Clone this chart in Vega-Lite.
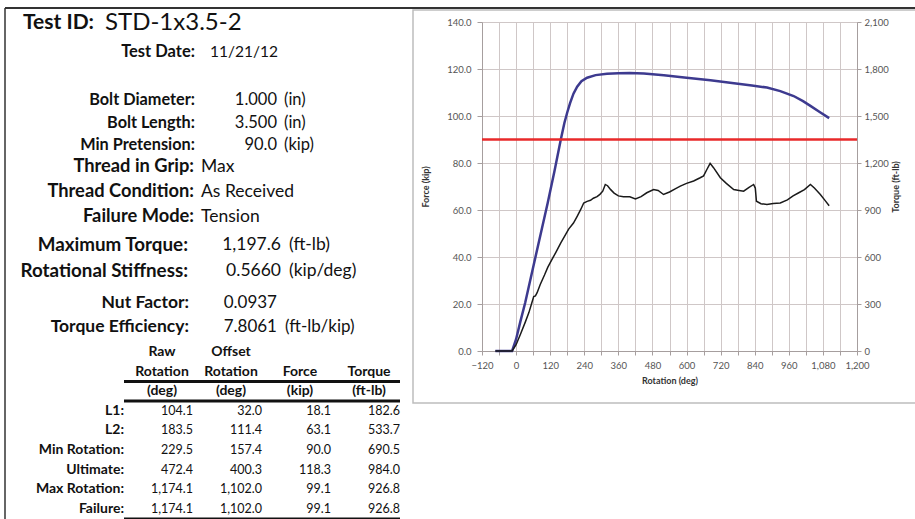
{
  "$schema": "https://vega.github.io/schema/vega-lite/v6.json",
  "width": 375,
  "height": 329,
  "autosize": {"type": "none"},
  "padding": {"left": 482, "top": 22, "right": 58, "bottom": 168},
  "background": "white",
  "config": {
    "view": {"stroke": null},
    "font": "Lato",
    "text": {"font": "Lato", "color": "#111111", "baseline": "middle"}
  },
  "datasets": {
    "force": [
      {"rotation": -73, "force": 0}, {"rotation": -40, "force": 0}, {"rotation": -14, "force": 0},
      {"rotation": 0, "force": 5}, {"rotation": 15, "force": 12.5}, {"rotation": 32, "force": 20.5},
      {"rotation": 70, "force": 41}, {"rotation": 111.4, "force": 63.1}, {"rotation": 135, "force": 76.5},
      {"rotation": 157.4, "force": 90}, {"rotation": 170, "force": 97}, {"rotation": 180, "force": 101.5},
      {"rotation": 190, "force": 105.5}, {"rotation": 202, "force": 109.5}, {"rotation": 215, "force": 112.5},
      {"rotation": 230, "force": 114.8}, {"rotation": 250, "force": 116.3}, {"rotation": 280, "force": 117.4},
      {"rotation": 320, "force": 118}, {"rotation": 360, "force": 118.2}, {"rotation": 400.3, "force": 118.3},
      {"rotation": 450, "force": 118.1}, {"rotation": 520, "force": 117.3}, {"rotation": 600, "force": 116.3},
      {"rotation": 684, "force": 115.2}, {"rotation": 760, "force": 114}, {"rotation": 830, "force": 113},
      {"rotation": 883, "force": 112.1}, {"rotation": 930, "force": 110.6}, {"rotation": 977, "force": 108.5},
      {"rotation": 1010, "force": 106.3}, {"rotation": 1036, "force": 104.3}, {"rotation": 1070, "force": 101.6},
      {"rotation": 1102, "force": 99.1}
    ],
    "torque": [
      {"rotation": -73, "torque": 0}, {"rotation": -45, "torque": 0}, {"rotation": -14, "torque": 0},
      {"rotation": 0, "torque": 40}, {"rotation": 15, "torque": 105}, {"rotation": 32, "torque": 182.6},
      {"rotation": 45, "torque": 245}, {"rotation": 55, "torque": 305}, {"rotation": 62, "torque": 348},
      {"rotation": 68, "torque": 352}, {"rotation": 74, "torque": 372}, {"rotation": 85, "torque": 425},
      {"rotation": 100, "torque": 485}, {"rotation": 111.4, "torque": 533.7}, {"rotation": 125, "torque": 580},
      {"rotation": 140, "torque": 630}, {"rotation": 157.4, "torque": 690.5}, {"rotation": 170, "torque": 730},
      {"rotation": 185, "torque": 778}, {"rotation": 202, "torque": 817}, {"rotation": 215, "torque": 860},
      {"rotation": 228, "torque": 905}, {"rotation": 238, "torque": 945}, {"rotation": 250, "torque": 955},
      {"rotation": 262, "torque": 962}, {"rotation": 272, "torque": 975}, {"rotation": 285, "torque": 985},
      {"rotation": 295, "torque": 1000}, {"rotation": 305, "torque": 1020}, {"rotation": 314, "torque": 1063},
      {"rotation": 322, "torque": 1055}, {"rotation": 333, "torque": 1030}, {"rotation": 345, "torque": 1008},
      {"rotation": 360, "torque": 990}, {"rotation": 378, "torque": 984}, {"rotation": 400.3, "torque": 984},
      {"rotation": 420, "torque": 971}, {"rotation": 440, "torque": 985}, {"rotation": 460, "torque": 1010},
      {"rotation": 484, "torque": 1031}, {"rotation": 500, "torque": 1025}, {"rotation": 519, "torque": 999},
      {"rotation": 540, "torque": 1015}, {"rotation": 560, "torque": 1035}, {"rotation": 578, "torque": 1052},
      {"rotation": 600, "torque": 1070}, {"rotation": 625, "torque": 1085}, {"rotation": 648, "torque": 1106},
      {"rotation": 660, "torque": 1118}, {"rotation": 672, "torque": 1160}, {"rotation": 683, "torque": 1197.6},
      {"rotation": 695, "torque": 1170}, {"rotation": 719, "torque": 1106}, {"rotation": 740, "torque": 1070},
      {"rotation": 766, "torque": 1031}, {"rotation": 785, "torque": 1025}, {"rotation": 801, "torque": 1020},
      {"rotation": 820, "torque": 1045}, {"rotation": 836, "torque": 1063}, {"rotation": 842, "torque": 1040},
      {"rotation": 846, "torque": 956}, {"rotation": 862, "torque": 940}, {"rotation": 883, "torque": 935},
      {"rotation": 905, "torque": 942}, {"rotation": 930, "torque": 945}, {"rotation": 955, "torque": 965},
      {"rotation": 975, "torque": 990}, {"rotation": 995, "torque": 1010}, {"rotation": 1015, "torque": 1030},
      {"rotation": 1036, "torque": 1063}, {"rotation": 1050, "torque": 1040}, {"rotation": 1071, "torque": 999},
      {"rotation": 1088, "torque": 960}, {"rotation": 1102, "torque": 926.8}
    ],
    "pretension": [{"force": 90}],
    "frame": [{"part": "frame"}],
    "title": [{"label": "Test ID:", "value": "STD-1x3.5-2"}],
    "date": [{"label": "Test Date:", "value": "11/21/12"}],
    "bolt": [
      {"label": "Bolt Diameter:", "num": "1.000", "unit": "(in)"},
      {"label": "Bolt Length:", "num": "3.500", "unit": "(in)"},
      {"label": "Min Pretension:", "num": "90.0", "unit": "(kip)"}
    ],
    "thread": [
      {"label": "Thread in Grip:", "text": "Max"},
      {"label": "Thread Condition:", "text": "As Received"},
      {"label": "Failure Mode:", "text": "Tension"}
    ],
    "key": [
      {"label": "Maximum Torque:", "num": "1,197.6", "unit": "(ft-lb)"},
      {"label": "Rotational Stiffness:", "num": "0.5660", "unit": "(kip/deg)"}
    ],
    "factor": [
      {"label": "Nut Factor:", "num": "0.0937", "unit": ""},
      {"label": "Torque Efficiency:", "num": "7.8061", "unit": "(ft-lb/kip)"}
    ],
    "table_header": [
      {"line": "h1", "col": "raw", "text": "Raw"},
      {"line": "h1", "col": "offset", "text": "Offset"},
      {"line": "h2", "col": "raw", "text": "Rotation"},
      {"line": "h2", "col": "offset", "text": "Rotation"},
      {"line": "h2", "col": "force", "text": "Force"},
      {"line": "h2", "col": "torque", "text": "Torque"},
      {"line": "h3", "col": "raw", "text": "(deg)"},
      {"line": "h3", "col": "offset", "text": "(deg)"},
      {"line": "h3", "col": "force", "text": "(kip)"},
      {"line": "h3", "col": "torque", "text": "(ft-lb)"}
    ],
    "table_rows": [
      {"point": "L1:", "raw": 104.1, "offset": 32.0, "force": 18.1, "torque": 182.6},
      {"point": "L2:", "raw": 183.5, "offset": 111.4, "force": 63.1, "torque": 533.7},
      {"point": "Min Rotation:", "raw": 229.5, "offset": 157.4, "force": 90.0, "torque": 690.5},
      {"point": "Ultimate:", "raw": 472.4, "offset": 400.3, "force": 118.3, "torque": 984.0},
      {"point": "Max Rotation:", "raw": 1174.1, "offset": 1102.0, "force": 99.1, "torque": 926.8},
      {"point": "Failure:", "raw": 1174.1, "offset": 1102.0, "force": 99.1, "torque": 926.8}
    ],
    "table_rules_thick": [{"line": "rule1"}, {"line": "rule2"}],
    "table_rules_bottom": [{"line": "rule3"}]
  },
  "layer": [
    {
      "data": {"name": "frame"},
      "mark": {"type": "rect", "fill": null, "stroke": "#bdbdbd", "strokeWidth": 1.5},
      "encoding": {
        "x": {"datum": "chart left", "type": "nominal", "scale": {"type": "point", "domain": ["chart left", "chart right"], "range": [-69, 436], "padding": 0}, "axis": null},
        "x2": {"datum": "chart right"},
        "y": {"datum": "chart top", "type": "nominal", "scale": {"type": "point", "domain": ["chart top", "chart bottom"], "range": [-12, 381], "padding": 0}, "axis": null},
        "y2": {"datum": "chart bottom"}
      }
    },
    {
      "data": {"name": "frame"},
      "encoding": {
        "x": {"datum": "page left", "type": "nominal", "scale": {"type": "point", "domain": ["page left", "page right"], "range": [-477, 433], "padding": 0}, "axis": null},
        "y": {"datum": "page top", "type": "nominal", "scale": {"type": "point", "domain": ["page top", "page bottom"], "range": [-14, 497], "padding": 0}, "axis": null}
      },
      "layer": [
        {"mark": {"type": "rule", "color": "#333333", "strokeWidth": 2}, "encoding": {"x2": {"datum": "page right"}}},
        {"mark": {"type": "rule", "color": "#333333", "strokeWidth": 1.5}, "encoding": {"y2": {"datum": "page bottom"}}}
      ]
    },
    {
      "data": {"name": "force"},
      "mark": {"type": "line", "color": "#3d3a8f", "strokeWidth": 2.5},
      "encoding": {
        "x": {
          "field": "rotation", "type": "quantitative",
          "scale": {"domain": [-120, 1200], "nice": false, "zero": false},
          "axis": {
            "values": [-120, -60, 0, 60, 120, 180, 240, 300, 360, 420, 480, 540, 600, 660, 720, 780, 840, 900, 960, 1020, 1080, 1140, 1200],
            "labelExpr": "datum.value % 120 === 0 ? format(datum.value, ',') : ''",
            "grid": true, "gridColor": "#cfc7c7", "gridWidth": 1,
            "domainColor": "#a69e9e", "tickColor": "#a69e9e", "tickSize": 4,
            "labelFont": "Lato", "labelFontSize": 9.5, "labelColor": "#555555", "labelPadding": 5,
            "labelOverlap": false, "labelFlush": false,
            "title": "Rotation (deg)", "titleFont": "Lato", "titleFontSize": 9,
            "titleFontWeight": "bold", "titleColor": "#333333", "titlePadding": 7
          }
        },
        "y": {
          "field": "force", "type": "quantitative",
          "scale": {"domain": [0, 140], "nice": false},
          "axis": {
            "orient": "left",
            "values": [0, 20, 40, 60, 80, 100, 120, 140],
            "labelExpr": "format(datum.value, '.1f')",
            "grid": true, "gridColor": "#cfc7c7", "gridWidth": 1,
            "domainColor": "#a69e9e", "tickColor": "#a69e9e", "tickSize": 5,
            "labelFont": "Lato", "labelFontSize": 9.5, "labelColor": "#555555", "labelPadding": 6,
            "title": "Force (kip)", "titleFont": "Lato", "titleFontSize": 9,
            "titleFontWeight": "bold", "titleColor": "#333333", "titlePadding": 16
          }
        }
      }
    },
    {
      "data": {"name": "pretension"},
      "mark": {"type": "rule", "color": "#e8292a", "strokeWidth": 2.5},
      "encoding": {
        "y": {"field": "force", "type": "quantitative", "scale": {"domain": [0, 140], "nice": false}, "axis": null}
      }
    },
    {
      "data": {"name": "torque"},
      "mark": {"type": "line", "color": "#1a1a1a", "strokeWidth": 1.5},
      "encoding": {
        "x": {"field": "rotation", "type": "quantitative", "scale": {"domain": [-120, 1200], "nice": false, "zero": false}, "axis": null},
        "y": {
          "field": "torque", "type": "quantitative",
          "scale": {"domain": [0, 2100], "nice": false},
          "axis": {
            "orient": "right",
            "values": [0, 300, 600, 900, 1200, 1500, 1800, 2100],
            "labelExpr": "format(datum.value, ',')",
            "grid": false, "domainColor": "#a69e9e", "tickColor": "#a69e9e", "tickSize": 4,
            "labelFont": "Lato", "labelFontSize": 9.5, "labelColor": "#555555", "labelPadding": 3,
            "title": "Torque (ft-lb)", "titleFont": "Lato", "titleFontSize": 9, "titleAngle": 270,
            "titleFontWeight": "bold", "titleColor": "#333333", "titlePadding": 12
          }
        }
      }
    },
    {
      "data": {"name": "title"},
      "encoding": {
        "y": {"field": "label", "type": "nominal", "scale": {"type": "point", "domain": ["Test ID:"], "range": [1, 1], "padding": 0}, "axis": null}
      },
      "layer": [
        {
          "mark": {"type": "text", "align": "left", "fontSize": 21, "fontWeight": "bold"},
          "encoding": {
            "x": {"datum": "label", "type": "nominal", "scale": {"type": "point", "domain": ["label", "value"], "range": [-459, -377], "padding": 0}, "axis": null},
            "text": {"field": "label"}
          }
        },
        {
          "mark": {"type": "text", "align": "left", "fontSize": 24},
          "encoding": {"x": {"datum": "value", "type": "nominal"}, "text": {"field": "value"}}
        }
      ]
    },
    {
      "data": {"name": "date"},
      "encoding": {
        "y": {"field": "label", "type": "nominal", "scale": {"type": "point", "domain": ["Test Date:"], "range": [30, 30], "padding": 0}, "axis": null}
      },
      "layer": [
        {
          "mark": {"type": "text", "align": "right", "fontSize": 16.5, "fontWeight": "bold"},
          "encoding": {
            "x": {"datum": "label", "type": "nominal", "scale": {"type": "point", "domain": ["label", "value"], "range": [-287, -272], "padding": 0}, "axis": null},
            "text": {"field": "label"}
          }
        },
        {
          "mark": {"type": "text", "align": "left", "fontSize": 15.5},
          "encoding": {"x": {"datum": "value", "type": "nominal"}, "text": {"field": "value"}}
        }
      ]
    },
    {
      "data": {"name": "bolt"},
      "encoding": {
        "y": {"field": "label", "type": "nominal", "scale": {"type": "point", "domain": ["Bolt Diameter:", "Bolt Length:", "Min Pretension:"], "range": [78, 123], "padding": 0}, "axis": null}
      },
      "layer": [
        {
          "mark": {"type": "text", "align": "right", "fontSize": 16.3, "fontWeight": "bold"},
          "encoding": {
            "x": {"datum": "label", "type": "nominal", "scale": {"type": "point", "domain": ["label", "value"], "range": [-287, -205], "padding": 0}, "axis": null},
            "text": {"field": "label"}
          }
        },
        {
          "mark": {"type": "text", "align": "right", "fontSize": 16.5},
          "encoding": {"x": {"datum": "value", "type": "nominal"}, "text": {"field": "num"}}
        },
        {
          "mark": {"type": "text", "align": "left", "fontSize": 16.5, "dx": 7},
          "encoding": {"x": {"datum": "value", "type": "nominal"}, "text": {"field": "unit"}}
        }
      ]
    },
    {
      "data": {"name": "thread"},
      "encoding": {
        "y": {"field": "label", "type": "nominal", "scale": {"type": "point", "domain": ["Thread in Grip:", "Thread Condition:", "Failure Mode:"], "range": [145, 195], "padding": 0}, "axis": null}
      },
      "layer": [
        {
          "mark": {"type": "text", "align": "right", "fontSize": 18.3, "fontWeight": "bold"},
          "encoding": {
            "x": {"datum": "label", "type": "nominal", "scale": {"type": "point", "domain": ["label", "value"], "range": [-288, -281], "padding": 0}, "axis": null},
            "text": {"field": "label"}
          }
        },
        {
          "mark": {"type": "text", "align": "left", "fontSize": 17.5},
          "encoding": {"x": {"datum": "value", "type": "nominal"}, "text": {"field": "text"}}
        }
      ]
    },
    {
      "data": {"name": "key"},
      "encoding": {
        "y": {"field": "label", "type": "nominal", "scale": {"type": "point", "domain": ["Maximum Torque:", "Rotational Stiffness:"], "range": [223, 249], "padding": 0}, "axis": null}
      },
      "layer": [
        {
          "mark": {"type": "text", "align": "right", "fontSize": 18.8, "fontWeight": "bold"},
          "encoding": {
            "x": {"datum": "label", "type": "nominal", "scale": {"type": "point", "domain": ["label", "value"], "range": [-294, -201], "padding": 0}, "axis": null},
            "text": {"field": "label"}
          }
        },
        {
          "mark": {"type": "text", "align": "right", "fontSize": 17.5},
          "encoding": {"x": {"datum": "value", "type": "nominal"}, "text": {"field": "num"}}
        },
        {
          "mark": {"type": "text", "align": "left", "fontSize": 17.5, "dx": 8},
          "encoding": {"x": {"datum": "value", "type": "nominal"}, "text": {"field": "unit"}}
        }
      ]
    },
    {
      "data": {"name": "factor"},
      "encoding": {
        "y": {"field": "label", "type": "nominal", "scale": {"type": "point", "domain": ["Nut Factor:", "Torque Efficiency:"], "range": [281, 305], "padding": 0}, "axis": null}
      },
      "layer": [
        {
          "mark": {"type": "text", "align": "right", "fontSize": 17.5, "fontWeight": "bold"},
          "encoding": {
            "x": {"datum": "label", "type": "nominal", "scale": {"type": "point", "domain": ["label", "value"], "range": [-293, -205], "padding": 0}, "axis": null},
            "text": {"field": "label"}
          }
        },
        {
          "mark": {"type": "text", "align": "right", "fontSize": 17},
          "encoding": {"x": {"datum": "value", "type": "nominal"}, "text": {"field": "num"}}
        },
        {
          "mark": {"type": "text", "align": "left", "fontSize": 17, "dx": 8},
          "encoding": {"x": {"datum": "value", "type": "nominal"}, "text": {"field": "unit"}}
        }
      ]
    },
    {
      "encoding": {
        "y": {"type": "nominal", "scale": {"type": "point", "domain": ["h1", "s1", "h2", "rule1", "h3", "rule2", "L1:", "s2", "L2:", "s3", "Min Rotation:", "s4", "Ultimate:", "s5", "Max Rotation:", "s6", "Failure:", "rule3"], "range": [330, 496.6], "padding": 0}, "axis": null}
      },
      "layer": [
        {
          "data": {"name": "table_header"},
          "mark": {"type": "text", "align": "center", "fontSize": 14, "fontWeight": "bold", "dx": -31},
          "encoding": {
            "x": {"field": "col", "type": "nominal", "scale": {"type": "point", "domain": ["label", "raw", "offset", "force", "torque"], "range": [-358, -82], "padding": 0}, "axis": null},
            "y": {"field": "line", "type": "nominal"},
            "text": {"field": "text"}
          }
        },
        {
          "data": {"name": "table_rows"},
          "mark": {"type": "text", "align": "right", "fontSize": 14, "fontWeight": "bold"},
          "encoding": {
            "x": {"datum": "label", "type": "nominal"},
            "y": {"field": "point", "type": "nominal"},
            "text": {"field": "point"}
          }
        },
        {
          "data": {"name": "table_rows"},
          "transform": [{"fold": ["raw", "offset", "force", "torque"], "as": ["col", "value"]}],
          "mark": {"type": "text", "align": "right", "fontSize": 12.5},
          "encoding": {
            "x": {"field": "col", "type": "nominal"},
            "y": {"field": "point", "type": "nominal"},
            "text": {"field": "value", "type": "quantitative", "format": ",.1f"}
          }
        },
        {
          "data": {"name": "table_rules_thick"},
          "mark": {"type": "rule", "color": "#111111", "strokeWidth": 3},
          "encoding": {
            "x": {"datum": "label", "type": "nominal"},
            "x2": {"datum": "torque"},
            "y": {"field": "line", "type": "nominal"}
          }
        },
        {
          "data": {"name": "table_rules_bottom"},
          "mark": {"type": "rule", "color": "#111111", "strokeWidth": 2},
          "encoding": {
            "x": {"datum": "label", "type": "nominal"},
            "x2": {"datum": "torque"},
            "y": {"field": "line", "type": "nominal"}
          }
        }
      ]
    }
  ],
  "resolve": {"scale": {"x": "independent", "y": "independent"}}
}
